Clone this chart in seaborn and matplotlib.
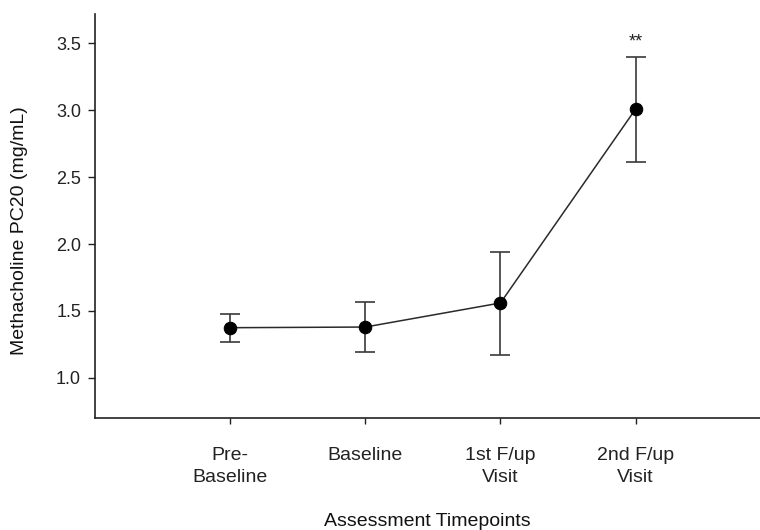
import matplotlib
matplotlib.use("Agg")
import matplotlib.pyplot as plt
import seaborn as sns
import pandas as pd
import numpy as np

categories = ["Pre-\nBaseline", "Baseline", "1st F/up\nVisit", "2nd F/up\nVisit"]
means = [1.375, 1.38, 1.56, 3.01]
upper = [1.48, 1.565, 1.94, 3.40]
lower = [1.265, 1.195, 1.17, 2.615]
y_ticks = [1.0, 1.5, 2.0, 2.5, 3.0, 3.5]
y_tick_labels = ["1.0", "1.5", "2.0", "2.5", "3.0", "3.5"]
annotation = "**"

sns.set_theme(style="ticks")
plt.rcParams["font.family"] = ["Liberation Sans", "DejaVu Sans"]

df = pd.DataFrame({"pos": np.arange(len(categories)), "mean": means,
                   "upper": upper, "lower": lower})

fig = plt.figure(figsize=(7.6, 5.3), dpi=100)
ax = fig.add_axes([0.125, 0.2113, 0.875, 0.7623])

err_low = df["mean"] - df["lower"]
err_high = df["upper"] - df["mean"]
ax.errorbar(df["pos"], df["mean"], yerr=[err_low, err_high], fmt="none",
            ecolor="#3a3a3a", elinewidth=1.2, capsize=7, capthick=1.2, zorder=2)
sns.lineplot(data=df, x="pos", y="mean", ax=ax, color="#2a2a2a", linewidth=1.1,
             marker="o", markersize=9, markerfacecolor="black",
             markeredgecolor="black", zorder=3)

ax.text(df["pos"].iloc[-1], 3.51, annotation, ha="center", va="center",
        fontsize=13, color="#222222")

ax.set_xlim(-1.0, 3.92)
ax.set_ylim(0.70, 3.72)
ax.set_xticks(df["pos"])
ax.set_xticklabels(categories, fontsize=14, linespacing=1.35)
ax.set_yticks(y_ticks)
ax.set_yticklabels(y_tick_labels, fontsize=13)
ax.tick_params(axis="x", length=4, width=1, pad=17, colors="#222222")
ax.tick_params(axis="y", length=5, width=1, pad=5, colors="#222222")
ax.set_xlabel("Assessment Timepoints", fontsize=14, color="#111111")
ax.set_ylabel("Methacholine PC20 (mg/mL)", fontsize=14, color="#111111")
ax.xaxis.set_label_coords(0.5, -0.236)
ax.yaxis.set_label_coords(-0.10, 0.465)

for side in ["top", "right"]:
    ax.spines[side].set_visible(False)
for side in ["left", "bottom"]:
    ax.spines[side].set_color("#222222")
    ax.spines[side].set_linewidth(1.2)

fig.savefig("out.png", dpi=100)
